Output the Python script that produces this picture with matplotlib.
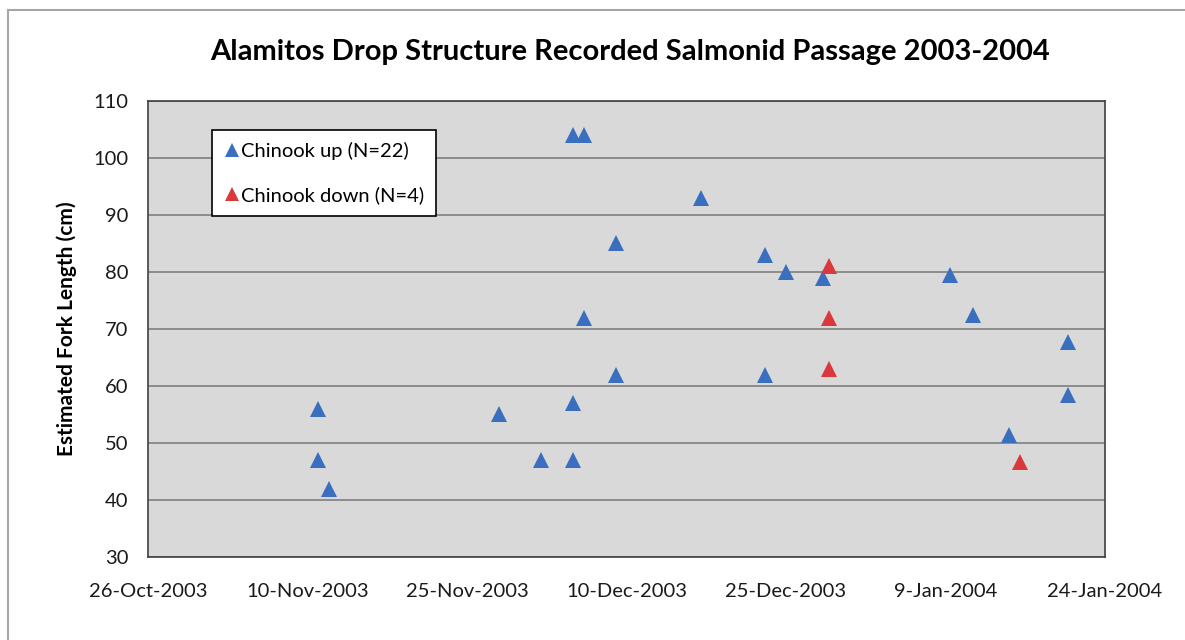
import matplotlib.pyplot as plt
import matplotlib.dates as mdates
import numpy as np
from matplotlib.lines import Line2D

plt.rcParams["font.family"] = ["Lato", "DejaVu Sans"]

# --- data ---
up_dates = [
    "2003-11-11", "2003-11-11", "2003-11-12", "2003-11-28", "2003-12-02",
    "2003-12-05", "2003-12-05", "2003-12-05", "2003-12-06", "2003-12-06",
    "2003-12-09", "2003-12-09", "2003-12-17", "2003-12-23", "2003-12-23",
    "2003-12-25", "2003-12-28T12:00", "2004-01-09T10:00", "2004-01-11T14:00",
    "2004-01-15", "2004-01-20T12:00", "2004-01-20T12:00",
]
up_length = [56, 47, 42, 55, 47, 47, 57, 104, 104, 72,
             62, 85, 93, 83, 62, 80, 79, 79.5, 72.5, 51.4, 67.7, 58.4]

down_dates = ["2003-12-29", "2003-12-29", "2003-12-29", "2004-01-16"]
down_length = [81, 72, 63, 46.7]

tick_dates = ["2003-10-26", "2003-11-10", "2003-11-25", "2003-12-10",
              "2003-12-25", "2004-01-09", "2004-01-24"]

blue = "#3a6fbf"
red = "#d9393b"

fig = plt.figure(figsize=(11.85, 6.4), dpi=100)
ax = fig.add_axes([0.1249, 0.1297, 0.8076, 0.7125])

up_x = np.array(up_dates, dtype="datetime64[m]")
down_x = np.array(down_dates, dtype="datetime64[m]")
ticks = np.array(tick_dates, dtype="datetime64[D]")

ax.plot(up_x, up_length, ls="none", marker="^", ms=11, color=blue,
        markeredgewidth=0, zorder=3)
ax.plot(down_x, down_length, ls="none", marker="^", ms=11, color=red,
        markeredgewidth=0, zorder=3)

ax.set_xlim(ticks[0], ticks[-1])
ax.set_xticks(ticks)
ax.xaxis.set_major_formatter(mdates.DateFormatter("%-d-%b-%Y"))
ax.set_ylim(30, 110)
ax.set_yticks(range(30, 111, 10))

ax.set_facecolor("#d9d9d9")
ax.grid(axis="y", color="#7f7f7f", lw=1.2)
ax.set_axisbelow(True)
for s in ax.spines.values():
    s.set_color("#404040")
    s.set_linewidth(1.2)
ax.tick_params(axis="both", length=0, labelsize=14.5, colors="#1a1a1a")
ax.tick_params(axis="x", pad=19)
ax.tick_params(axis="y", pad=14)

ax.set_ylabel("Estimated Fork Length (cm)", fontsize=15, fontweight="bold",
              labelpad=12)

fig.text(0.532, 0.919, "Alamitos Drop Structure Recorded Salmonid Passage 2003-2004",
         ha="center", va="center", fontsize=21, fontweight="bold")

handles = [
    Line2D([], [], ls="none", marker="^", ms=10, color=blue, markeredgewidth=0),
    Line2D([], [], ls="none", marker="^", ms=10, color=red, markeredgewidth=0),
]
leg = ax.legend(handles, ["Chinook up (N=22)", "Chinook down (N=4)"],
                loc="upper left", bbox_to_anchor=(0.0669, 0.936),
                borderaxespad=0, fontsize=14.5, labelspacing=1.3,
                handletextpad=0.05, handlelength=0.8, borderpad=0.6,
                fancybox=False, framealpha=1, edgecolor="black")
leg.get_frame().set_linewidth(1.2)

# outer chart border
fig.add_artist(Line2D([8 / 1185, 1.0], [1 - 10 / 640, 1 - 10 / 640],
                      transform=fig.transFigure, color="#a6a6a6", lw=1.5))
fig.add_artist(Line2D([8 / 1185, 8 / 1185], [0.0, 1 - 10 / 640],
                      transform=fig.transFigure, color="#a6a6a6", lw=1.5))

fig.savefig("out.png", dpi=100)
